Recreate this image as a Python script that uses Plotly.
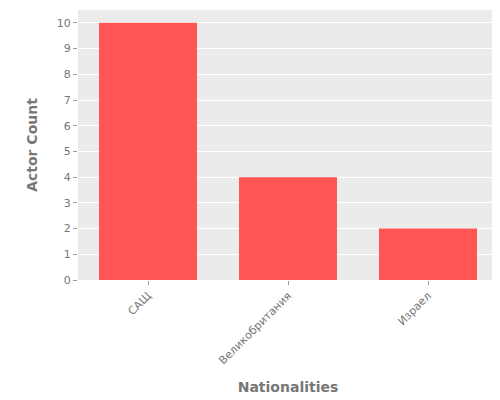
import plotly.graph_objects as go

nationalities = ["САЩ", "Великобритания", "Израел"]
actor_counts = [10, 4, 2]

fig = go.Figure()
fig.add_trace(
    go.Bar(
        x=nationalities,
        y=actor_counts,
        marker=dict(color="#FF5555", line=dict(width=0)),
        width=0.7,
    )
)

fig.update_layout(
    width=500,
    height=400,
    margin=dict(l=70, r=10, t=2, b=128),
    plot_bgcolor="#EBEBEB",
    paper_bgcolor="white",
    font=dict(family="DejaVu Sans", color="#777777", size=11),
    showlegend=False,
    bargap=0.3,
)
fig.update_xaxes(
    title=dict(text="<b>Nationalities</b>", font=dict(size=14, color="#777777")),
    tickangle=-45,
    ticks="outside",
    ticklen=4,
    tickcolor="#999999",
    showgrid=False,
)
fig.update_yaxes(
    title=dict(text="<b>Actor Count</b>", font=dict(size=14, color="#777777")),
    range=[0, 10.5],
    dtick=1,
    ticks="outside",
    ticklen=4,
    tickcolor="#999999",
    gridcolor="white",
    zeroline=False,
)

fig.write_html("out.html")
